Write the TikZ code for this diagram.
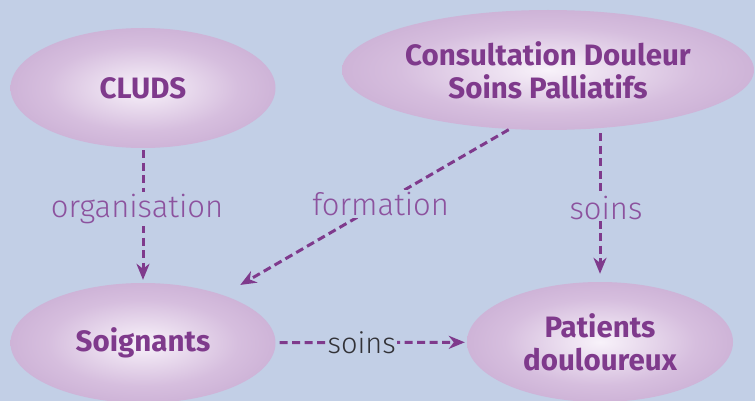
\documentclass[tikz,border=0pt]{standalone}
\usepackage{fontspec}
\setmainfont{Fira Sans}
\newfontfamily\lightfont{Fira Sans Light}
\usetikzlibrary{shapes.geometric, arrows.meta}

\definecolor{fond}{RGB}{194,207,230}
\definecolor{violet}{RGB}{127,58,140}
\definecolor{lilas}{RGB}{140,82,158}
\definecolor{gristexte}{RGB}{50,50,55}
\definecolor{bullecentre}{RGB}{248,242,250}
\definecolor{bullemilieu}{RGB}{214,190,222}
\definecolor{bullebord}{RGB}{178,143,192}

\pgfdeclareradialshading{bulle}{\pgfpoint{0bp}{0bp}}{%
  color(0bp)=(bullecentre); color(18bp)=(bullemilieu); color(50bp)=(bullebord)}

\tikzset{
  bulle/.style={ellipse, shading=bulle, inner sep=0pt, align=center,
    text=violet, font=\bfseries\fontsize{29.5}{33}\selectfont},
  lien/.style={violet, line width=3pt, dash pattern=on 8pt off 4.5pt,
    -{Stealth[length=16pt, width=13pt, inset=5pt]}},
  etiquette/.style={fill=fond, inner sep=2pt, text=lilas,
    font=\lightfont\fontsize{31}{33}\selectfont}
}

\begin{document}
\begin{tikzpicture}[x=1pt, y=-1pt]
  \useasboundingbox (0,0) rectangle (755,401);
  \fill[fond] (0,0) rectangle (755,401);

  \node[bulle, minimum width=265pt, minimum height=120pt] (cluds) at (143,88) {CLUDS};
  \node[bulle, minimum width=412pt, minimum height=120pt] (consult) at (548,70)
    {Consultation Douleur\\Soins Palliatifs};
  \node[bulle, minimum width=265pt, minimum height=120pt] (soignants) at (143,343) {Soignants};
  \node[bulle, minimum width=266pt, minimum height=120pt] (patients) at (600,342)
    {Patients\\douloureux};

  \draw[lien, shorten <=2pt, shorten >=3pt] (cluds) -- node[etiquette, pos=0.45, xshift=-6pt] (organisation) {organisation} (soignants);
  \draw[lien, shorten <=1pt, shorten >=20pt] (consult.237) -- node[etiquette, pos=0.45] (formation) {formation} (soignants.31);
  \draw[lien, shorten <=3pt, shorten >=8pt] (patients.north |- consult.south) -- node[etiquette, pos=0.51, xshift=6pt] (soins1) {soins} (patients.north);
  \draw[lien, shorten <=4pt, shorten >=2pt] (soignants) -- node[etiquette, pos=0.45, inner sep=1pt, text=gristexte, font=\lightfont\fontsize{29}{31}\selectfont] (soins2) {soins} (patients);
\end{tikzpicture}
\end{document}
